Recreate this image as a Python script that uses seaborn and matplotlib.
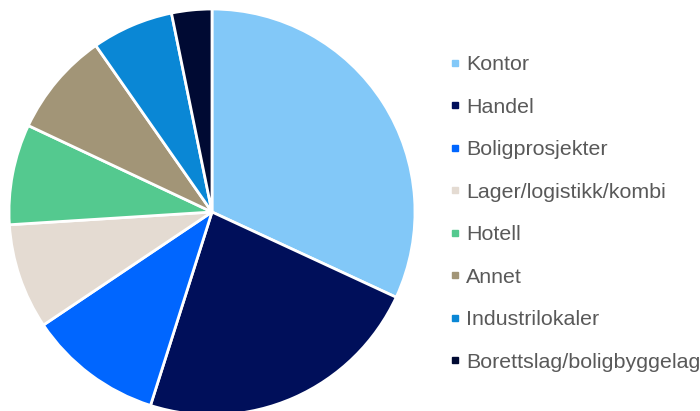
import matplotlib
matplotlib.use("Agg")
import matplotlib.pyplot as plt
from matplotlib.lines import Line2D
import seaborn as sns

categories = ["Kontor", "Handel", "Boligprosjekter", "Lager/logistikk/kombi",
              "Hotell", "Annet", "Industrilokaler", "Borettslag/boligbyggelag"]
shares = [31.9, 23.0, 10.7, 8.4, 8.0, 8.3, 6.5, 3.2]
colors = ["#82C8F8", "#000F5A", "#0066FF", "#E4DBD2",
          "#54C98F", "#A29577", "#0A87D5", "#000A33"]

sns.set_theme(style="white")
plt.rcParams["font.family"] = ["Liberation Sans", "DejaVu Sans"]

fig = plt.figure(figsize=(7, 4.11), dpi=100)
ax = fig.add_axes([9 / 700, -4 / 411, 406 / 700, 406 / 411])

ax.pie(shares, colors=colors, startangle=90, counterclock=False,
       wedgeprops=dict(edgecolor="white", linewidth=2))
ax.set_xlim(-1, 1)
ax.set_ylim(-1, 1)
ax.set_aspect("equal")
ax.axis("off")

handles = [Line2D([], [], marker="s", linestyle="none", markersize=5,
                  markerfacecolor=c, markeredgecolor=c) for c in colors]
leg = fig.legend(handles, categories, loc="upper left",
                 bbox_to_anchor=(451 / 700, 1 - 55 / 411),
                 frameon=False, fontsize=15.4, labelspacing=1.1,
                 handlelength=0.4, handletextpad=0.31, borderpad=0,
                 borderaxespad=0)
for t in leg.get_texts():
    t.set_color("#595959")

fig.savefig("out.png", dpi=100)
